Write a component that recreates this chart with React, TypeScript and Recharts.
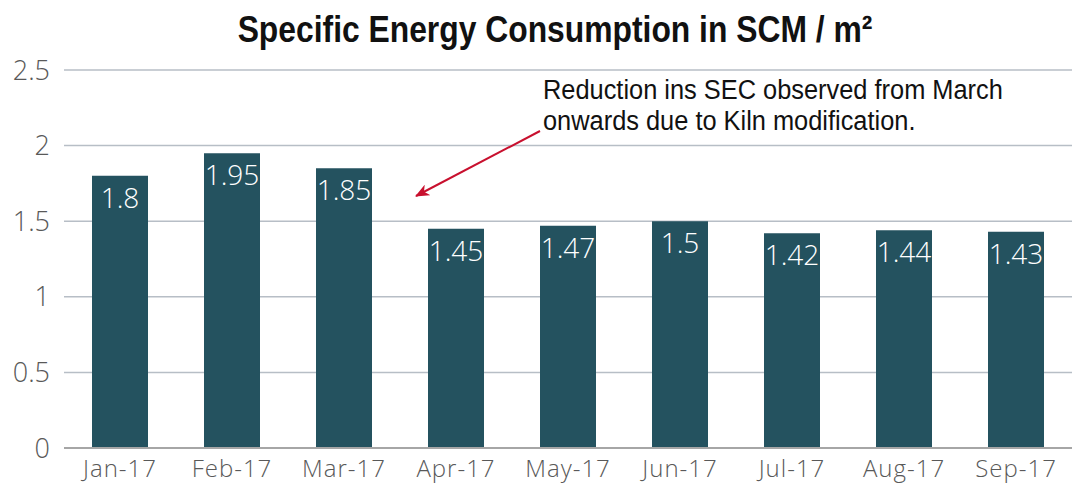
import React from 'react';
import { BarChart, Bar, XAxis, YAxis, CartesianGrid, LabelList } from 'recharts';

const months = ['Jan-17', 'Feb-17', 'Mar-17', 'Apr-17', 'May-17', 'Jun-17', 'Jul-17', 'Aug-17', 'Sep-17'];
const secValues = [1.8, 1.95, 1.85, 1.45, 1.47, 1.5, 1.42, 1.44, 1.43];
const yTicks = [0, 0.5, 1, 1.5, 2, 2.5];

const chartData = months.map((month, i) => ({ month, sec: secValues[i] }));

const lightFont = "'Open Sans', 'Liberation Sans', sans-serif";
const narrowFont = "'Liberation Sans', sans-serif";

const App: React.FC = () => {
  return (
    <div style={{ position: 'absolute', left: 0, top: 0, width: 1072, height: 490, background: '#fff' }}>
      <div
        style={{
          position: 'absolute',
          left: 555 - 400,
          top: 9,
          width: 800,
          textAlign: 'center',
          fontFamily: narrowFont,
          fontWeight: 700,
          fontSize: 37,
          color: '#111',
          transform: 'scaleX(0.86)',
          transformOrigin: '50% 50%',
        }}
      >
        Specific Energy Consumption in SCM / m²
      </div>
      <BarChart
        width={1072}
        height={490}
        data={chartData}
        margin={{ top: 70, right: 0, left: 0, bottom: 0 }}
        barCategoryGap="25%"
      >
        <CartesianGrid vertical={false} stroke="#b7bec6" strokeWidth={1.5} />
        <XAxis
          dataKey="month"
          height={42}
          stroke="#a6a6a6"
          strokeWidth={2}
          tickLine={false}
          tickMargin={6}
          tick={{ fill: '#595959', fontSize: 24, fontFamily: lightFont, fontWeight: 300, letterSpacing: 1 }}
        />
        <YAxis
          width={64}
          domain={[0, 2.5]}
          ticks={yTicks}
          axisLine={false}
          tickLine={false}
          tickMargin={8}
          tick={{ fill: '#595959', fontSize: 27, fontFamily: lightFont, fontWeight: 300 }}
        />
        <Bar dataKey="sec" fill="#24525f" isAnimationActive={false}>
          <LabelList
            dataKey="sec"
            position="insideTop"
            offset={12}
            fill="#ffffff"
            fontSize={28}
            fontFamily={lightFont}
            fontWeight={300}
          />
        </Bar>
      </BarChart>
      <div
        style={{
          position: 'absolute',
          left: 543,
          top: 75,
          fontFamily: narrowFont,
          fontSize: 27,
          lineHeight: '31px',
          color: '#111',
          whiteSpace: 'nowrap',
          transform: 'scaleX(0.94)',
          transformOrigin: '0 0',
        }}
      >
        Reduction ins SEC observed from March
        <br />
        onwards due to Kiln modification.
      </div>
      <svg style={{ position: 'absolute', left: 0, top: 0 }} width={1072} height={490}>
        <defs>
          <marker id="arrowHead" viewBox="0 0 14 12" refX="13" refY="6" markerWidth="14" markerHeight="12" orient="auto" markerUnits="userSpaceOnUse">
            <path d="M0,0 L14,6 L0,12 L4,6 z" fill="#c8102e" />
          </marker>
        </defs>
        <line x1={540} y1={131} x2={416} y2={196} stroke="#c8102e" strokeWidth={2} markerEnd="url(#arrowHead)" />
      </svg>
    </div>
  );
};

export default App;
